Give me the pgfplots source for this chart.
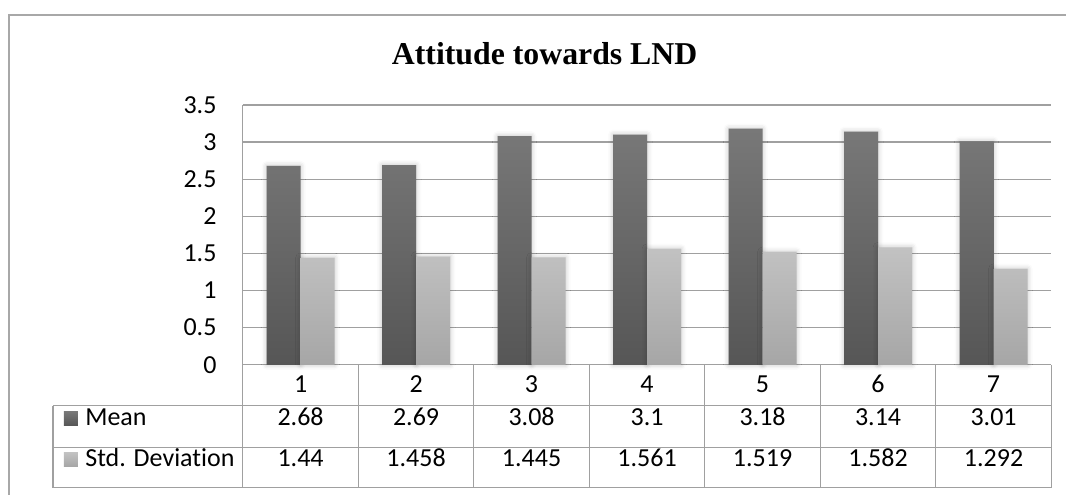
\documentclass[border=0pt]{standalone}
\usepackage{pgfplots}
\pgfplotsset{compat=1.18}
\usepackage{fontspec}
\setmainfont{Carlito}[Ligatures=NoCommon]
\newfontfamily\titlefont{Liberation Serif}
\usetikzlibrary{shadows.blur}

\definecolor{meantop}{HTML}{787878}
\definecolor{meanbot}{HTML}{565656}
\definecolor{stdtop}{HTML}{C2C2C2}
\definecolor{stdbot}{HTML}{A6A6A6}
\definecolor{gridgray}{HTML}{A0A0A0}
\definecolor{framegray}{HTML}{A8A8A8}

\tikzset{barshadow/.style={blur shadow={shadow xshift=0pt, shadow yshift=0pt,
  shadow blur radius=2.5pt, shadow opacity=25}}}

\begin{document}
\begin{tikzpicture}
% pixel frame: 1 px = 0.5pt, y downwards
\begin{scope}[x=0.5pt,y=-0.5pt]
  \path (0,0) rectangle (1067,495);
  \draw[framegray, line width=0.7pt] (9,495) -- (9,15) -- (1067,15);
  \node[font=\titlefont\bfseries\fontsize{15.9}{19}\selectfont, anchor=base, inner sep=0pt]
    at (545,65) {Attitude towards LND};
\end{scope}

\begin{axis}[
    at={(121.5pt,-182.5pt)}, anchor=south west,
    scale only axis, width=404.5pt, height=130pt,
    xmin=0.5, xmax=7.5, ymin=0, ymax=3.5,
    xtick=\empty, ytick={0,0.5,1,1.5,2,2.5,3,3.5},
    axis line style={draw=none}, major tick length=0pt,
    ymajorgrids, grid style={gridgray, line width=0.6pt},
    ybar=0pt, bar width=17pt,
    yticklabel style={font=\fontsize{13}{15}\selectfont, inner sep=0pt, xshift=-13pt},
    /pgf/number format/assume math mode=true,
    clip=false
]
\addplot[draw=none, top color=meantop, bottom color=meanbot, barshadow]
  coordinates {(1,2.68) (2,2.69) (3,3.08) (4,3.1) (5,3.18) (6,3.14) (7,3.01)};
\addplot[draw=none, top color=stdtop, bottom color=stdbot, barshadow]
  coordinates {(1,1.44) (2,1.458) (3,1.445) (4,1.561) (5,1.519) (6,1.582) (7,1.292)};
\end{axis}

% data table under the chart
\begin{scope}[x=0.5pt,y=-0.5pt]
  \begin{scope}[gridgray, line width=0.6pt]
    \draw (243,105) -- (243,488);
    \draw (53,406) -- (1052,406);
    \draw (53,448) -- (1052,448);
    \draw (53,488) -- (1052,488);
    \draw (53,406) -- (53,488);
    \foreach \i in {1,...,7}
      \draw ({243+\i*115.571},365) -- ({243+\i*115.571},488);
  \end{scope}
  \shade[top color=meantop, bottom color=meanbot] (64,412) rectangle (78,426);
  \shade[top color=stdtop, bottom color=stdbot] (64,453) rectangle (78,467);
  \begin{scope}[every node/.style={font=\fontsize{13}{15}\selectfont, anchor=base, inner sep=0pt}]
    \node[anchor=base west] at (85,425.7) {Mean};
    \node[anchor=base west] at (85,466.7) {Std. Deviation};
    \foreach \i/\m/\s in {1/2.68/1.44, 2/2.69/1.458, 3/3.08/1.445, 4/3.1/1.561,
                          5/3.18/1.519, 6/3.14/1.582, 7/3.01/1.292} {
      \node at ({243+(\i-0.5)*115.571},393) {\i};
      \node at ({243+(\i-0.5)*115.571},425.7) {\m};
      \node at ({243+(\i-0.5)*115.571},466.7) {\s};
    }
  \end{scope}
\end{scope}
\end{tikzpicture}
\end{document}
